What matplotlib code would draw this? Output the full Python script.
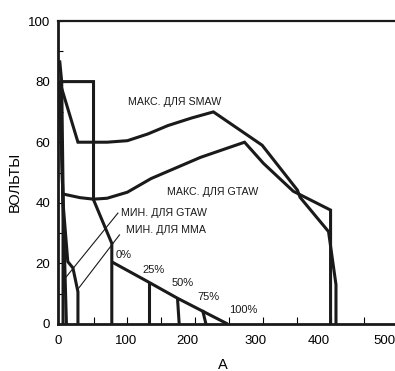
import matplotlib
matplotlib.use("Agg")
import matplotlib.pyplot as plt

# ── Data (amps, volts) ─────────────────────────────────────────────────

smaw_max_x = [0, 27, 70, 100, 130, 160, 195, 227, 299, 351, 355, 397, 408, 408]
smaw_max_y = [80, 60, 60, 60.5, 62.7, 65.5, 68, 70, 59, 44.2, 41.8, 30.5, 13, 0]

gtaw_max_x = [3, 30, 50, 70, 100, 135, 208, 273, 301, 345, 400, 400]
gtaw_max_y = [43, 41.7, 41.2, 41.5, 43.5, 48, 55, 60, 53, 43.8, 37.6, 0]

box_x = [0, 50, 50, 77, 77]
box_y = [80, 80, 41, 26.6, 0]

gtaw_min_x = [0, 3, 5, 5]
gtaw_min_y = [87, 80, 45, 0]

steep_x = [0, 10]
steep_y = [80, 0]

mma_min_x = [0, 5, 12, 19.6, 27, 27]
mma_min_y = [80, 40, 20.6, 18.5, 10.6, 0]

duty_x = [77, 130, 174, 248]
duty_y = [20.5, 14, 8.5, 0]
duty_labels = ["0%", "25%", "50%", "75%", "100%"]
duty_label_x = [82, 122.5, 165, 203.5, 250]
duty_label_y = [22.8, 17.8, 13.4, 9, 4.6]

drop_x = [(131.5, 131.5), (174, 176.5), (211, 216)]
drop_y = [(14, 0), (8.5, 0), (4.6, 0)]

xtick_labels = ["0", "100", "200", "300", "400", "500"]
xtick_pos = [-2, 98, 189, 289, 383, 480]
ytick_vals = [0, 20, 40, 60, 80, 100]

FONT = "Liberation Sans"
LW = 2.2

fig = plt.figure(figsize=(3.95, 3.71), dpi=100)
W, H = 395, 371
x0, y0, y1 = 58.3, 324, 21
ax = fig.add_axes([x0 / W, (H - y0) / H, (W - x0) / W, (y0 - y1) / H])
ax.set_xlim(0, (W - x0) / 0.68)
ax.set_ylim(0, 100)

kw = dict(color="#1a1a1a", lw=LW, solid_joinstyle="miter", solid_capstyle="butt")
ax.plot(smaw_max_x, smaw_max_y, **kw)
ax.plot(gtaw_max_x, gtaw_max_y, **kw)
ax.plot(box_x, box_y, **kw)
ax.plot(gtaw_min_x, gtaw_min_y, **kw)
ax.plot(steep_x, steep_y, **kw)
ax.plot(mma_min_x, mma_min_y, **kw)
ax.plot(duty_x, duty_y, **kw)
for dx, dy in zip(drop_x, drop_y):
    ax.plot(dx, dy, **kw)

# leader lines
ax.plot([86, 9.9], [36.6, 15.6], color="#1a1a1a", lw=0.8)
ax.plot([88.3, 28], [29.4, 11.8], color="#1a1a1a", lw=0.8)

tfont = dict(family=FONT, fontsize=7.7, color="#1a1a1a", va="center")
ax.text(101, 73.4, "МАКС. ДЛЯ SMAW", **tfont)
ax.text(159, 43.7, "МАКС. ДЛЯ GTAW", **tfont)
ax.text(90.7, 36.5, "МИН. ДЛЯ GTAW", **tfont)
ax.text(98, 31, "МИН. ДЛЯ ММА", **tfont)
for lab, lx, ly in zip(duty_labels, duty_label_x, duty_label_y):
    ax.text(lx, ly, lab, family=FONT, fontsize=8, color="#1a1a1a", va="center")

# spines
for s in ["left", "bottom"]:
    ax.spines[s].set_linewidth(2.0)
    ax.spines[s].set_color("#1a1a1a")
ax.spines["top"].set_linewidth(1.6)
ax.spines["top"].set_color("#1a1a1a")
ax.spines["right"].set_visible(False)

# x: labelled positions without marks, inward marks every 50
ax.set_xticks(xtick_pos)
ax.set_xticklabels(xtick_labels, family=FONT, fontsize=9.5)
ax.set_xticks(range(50, 500, 50), minor=True)
ax.tick_params(axis="x", which="major", length=0, pad=8)
ax.tick_params(axis="x", which="minor", direction="in", length=5, width=0.8)

ax.set_yticks(ytick_vals)
ax.set_yticklabels([str(v) for v in ytick_vals], family=FONT, fontsize=9.5)
ax.set_yticks(range(10, 100, 20), minor=True)
ax.tick_params(axis="y", which="both", direction="in", length=3.5, width=0.8, pad=6)

fig.text(15 / W, 1 - 182 / H, "ВОЛЬТЫ", family=FONT, fontsize=10.5,
         rotation=90, ha="center", va="center")
fig.text(223 / W, 1 - 365 / H, "A", family=FONT, fontsize=10.5,
         ha="center", va="center")

fig.savefig("out.png", dpi=100)
